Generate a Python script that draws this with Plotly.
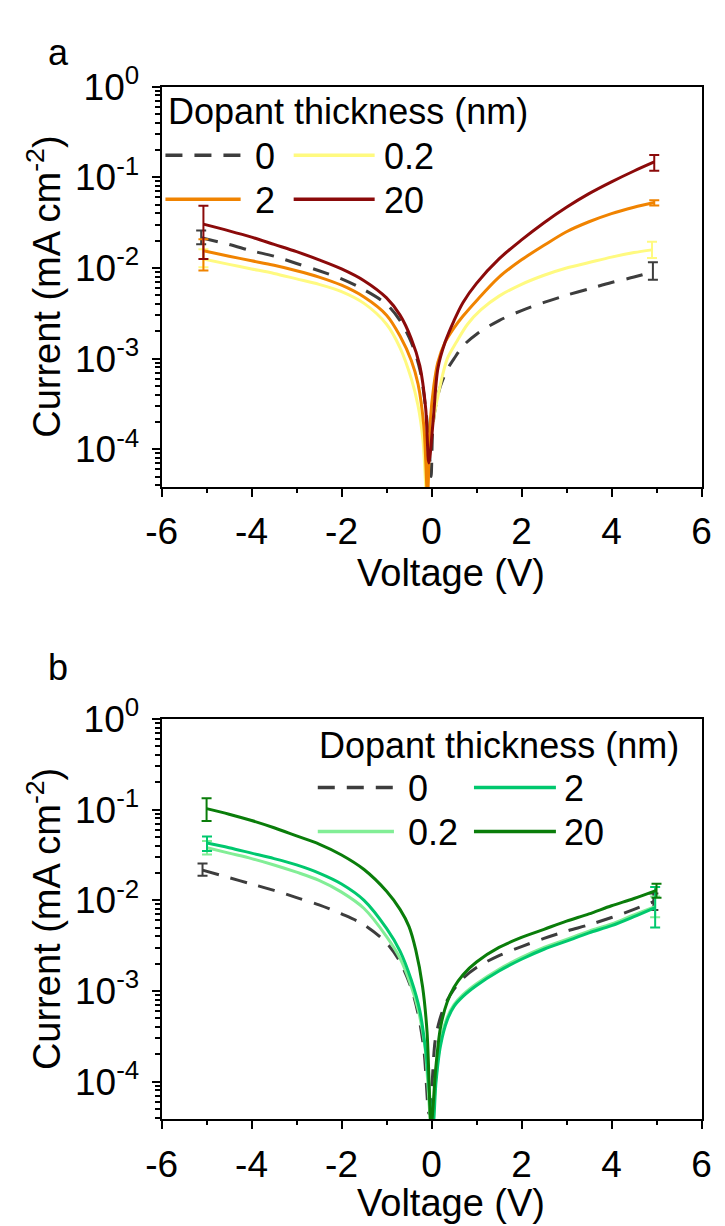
import math
import plotly.graph_objects as go

W, H = 725, 1226
FONT = "Liberation Sans, Arial, sans-serif"

# ---------------- data : panel a  (voltage in V, current as log10(mA cm^-2)) ----------------
a_v_0 = [-5.12, -4.5, -4.0, -3.5, -3.0, -2.5, -2.0, -1.5, -1.0, -0.7, -0.45, -0.26, -0.13, -0.05, -0.01,
         0.03, 0.1, 0.2, 0.35, 0.5, 0.7, 1.0, 1.5, 2.0, 2.5, 3.0, 3.5, 4.0, 4.5, 4.92]
a_lg_0 = [-1.667, -1.74, -1.81, -1.87, -1.95, -2.03, -2.12, -2.24, -2.40, -2.58, -2.82, -3.12, -3.55, -4.0, -4.3,
          -3.75, -3.5, -3.3, -3.12, -3.0, -2.86, -2.73, -2.58, -2.47, -2.38, -2.30, -2.23, -2.16, -2.10, -2.04]
a_hi_0 = [0.0259, 0.0116]
a_lo_0 = [0.0183, 0.0074]

a_v_02 = [-5.07, -4.5, -4.0, -3.5, -3.0, -2.5, -2.0, -1.5, -1.0, -0.7, -0.45, -0.3, -0.19, -0.11,
          -0.05, 0.05, 0.19, 0.35, 0.55, 0.8, 1.1, 1.5, 2.0, 2.5, 3.0, 3.5, 4.0, 4.5, 4.9]
a_lg_02 = [-1.90, -1.96, -2.01, -2.06, -2.12, -2.18, -2.26, -2.39, -2.62, -2.88, -3.22, -3.52, -3.9, -4.5,
           -4.0, -3.65, -3.3, -3.0, -2.82, -2.62, -2.46, -2.31, -2.18, -2.08, -2.0, -1.94, -1.88, -1.83, -1.80]
a_hi_02 = [0.0161, 0.0195]
a_lo_02 = [0.0102, 0.0129]

a_v_2 = [-5.07, -4.5, -4.0, -3.5, -3.0, -2.5, -2.0, -1.5, -1.0, -0.7, -0.45, -0.3, -0.17, -0.09,
         -0.03, 0.05, 0.14, 0.3, 0.5, 0.7, 1.0, 1.5, 2.0, 2.5, 3.0, 3.5, 4.0, 4.5, 4.95]
a_lg_2 = [-1.81, -1.87, -1.92, -1.97, -2.03, -2.10, -2.19, -2.32, -2.52, -2.75, -3.02, -3.28, -3.75, -4.5,
          -3.7, -3.3, -3.04, -2.82, -2.66, -2.53, -2.36, -2.10, -1.91, -1.75, -1.60, -1.49, -1.40, -1.33, -1.278]
a_hi_2 = [0.0207, 0.056]
a_lo_2 = [0.0094, 0.049]

a_v_20 = [-5.07, -4.5, -4.0, -3.5, -3.0, -2.5, -2.0, -1.5, -1.0, -0.7, -0.45, -0.26, -0.13, -0.06,
          0.04, 0.14, 0.3, 0.5, 0.7, 1.0, 1.5, 2.0, 2.5, 3.0, 3.5, 4.0, 4.5, 4.95]
a_lg_20 = [-1.516, -1.59, -1.66, -1.74, -1.82, -1.91, -2.01, -2.14, -2.33, -2.52, -2.78, -3.08, -3.55, -4.15,
           -3.66, -3.11, -2.82, -2.58, -2.38, -2.17, -1.90, -1.69, -1.50, -1.33, -1.18, -1.05, -0.93, -0.83]
a_hi_20 = [0.0485, 0.176]
a_lo_20 = [0.0126, 0.118]

# ---------------- data : panel b ----------------
b_v_0 = [-5.09, -4.5, -4.0, -3.5, -3.0, -2.5, -2.0, -1.5, -1.0, -0.7, -0.45, -0.3, -0.17, -0.06,
         0.0, 0.08, 0.18, 0.3, 0.5, 0.7, 1.0, 1.5, 2.0, 2.5, 3.0, 3.5, 4.0, 4.5, 4.93]
b_lg_0 = [-1.667, -1.75, -1.82, -1.89, -1.97, -2.05, -2.15, -2.27, -2.47, -2.68, -2.97, -3.25, -3.65, -4.35,
          -4.1, -3.55, -3.32, -3.15, -2.98, -2.86, -2.74, -2.61, -2.51, -2.42, -2.34, -2.27, -2.19, -2.10, -2.016]
b_hi_0 = [0.0254, 0.0119]
b_lo_0 = [0.0187, 0.0078]

b_v_02 = [-4.99, -4.5, -4.0, -3.5, -3.0, -2.5, -2.0, -1.5, -1.0, -0.7, -0.45, -0.3, -0.15, 0.0,
          0.1, 0.2, 0.35, 0.5, 0.7, 1.0, 1.5, 2.0, 2.5, 3.0, 3.5, 4.0, 4.5, 4.97]
b_lg_02 = [-1.42, -1.48, -1.54, -1.61, -1.69, -1.78, -1.91, -2.09, -2.40, -2.64, -2.95, -3.2, -3.6, -4.5,
           -3.95, -3.55, -3.29, -3.15, -3.04, -2.92, -2.76, -2.63, -2.52, -2.43, -2.34, -2.26, -2.16, -2.07]
b_hi_02 = [0.045, 0.011]
b_lo_02 = [0.032, 0.0065]

b_v_2 = [-4.99, -4.5, -4.0, -3.5, -3.0, -2.5, -2.0, -1.5, -1.0, -0.7, -0.45, -0.26, -0.12, 0.03,
         0.1, 0.2, 0.35, 0.5, 0.7, 1.0, 1.5, 2.0, 2.5, 3.0, 3.5, 4.0, 4.5, 4.97]
b_lg_2 = [-1.368, -1.42, -1.48, -1.54, -1.61, -1.70, -1.82, -2.00, -2.31, -2.56, -2.88, -3.22, -3.7, -4.5,
          -4.0, -3.6, -3.32, -3.17, -3.06, -2.94, -2.78, -2.65, -2.54, -2.45, -2.36, -2.28, -2.18, -2.08]
b_hi_2 = [0.0507, 0.014]
b_lo_2 = [0.0349, 0.005]

b_v_20 = [-5.0, -4.5, -4.0, -3.5, -3.0, -2.5, -2.0, -1.5, -1.0, -0.7, -0.5, -0.35, -0.2, -0.1, -0.01,
          0.03, 0.09, 0.2, 0.35, 0.5, 0.7, 1.0, 1.5, 2.0, 2.5, 3.0, 3.5, 4.0, 4.5, 5.0]
b_lg_20 = [-0.989, -1.05, -1.12, -1.20, -1.29, -1.38, -1.50, -1.66, -1.90, -2.10, -2.29, -2.55, -2.95, -3.45, -4.5,
           -4.3, -3.87, -3.40, -3.12, -2.96, -2.82, -2.68, -2.52, -2.41, -2.32, -2.23, -2.15, -2.06, -1.98, -1.89]
b_hi_20 = [0.134, 0.0152]
b_lo_20 = [0.0748, 0.0107]

# legend labels / ticks
legend_title = "Dopant thickness (nm)"
labels = ["0", "0.2", "2", "20"]
x_tickvals = [-6, -4, -2, 0, 2, 4, 6]
x_ticktext = ["-6", "-4", "-2", "0", "2", "4", "6"]
y_tickvals = [1e-4, 1e-3, 1e-2, 1e-1, 1]
y_ticktext = ["10<sup>-4</sup>", "10<sup>-3</sup>", "10<sup>-2</sup>", "10<sup>-1</sup>", "10<sup>0</sup>"]
y_minor = [m * 10.0 ** e for e in range(-5, 0) for m in range(2, 10)]

# colours
C_GRAY = "#3d3d3d"
C_YEL = "#fffa80"
C_ORA = "#f08300"
C_RED = "#8b0a0a"
C_LG = "#82ee96"
C_MG = "#00c86e"
C_DG = "#0a7d0a"
DASH = "17px,12px"

# ---------------- geometry (pixels) ----------------
X_L, X_R = 151, 711
A_T, A_B = 62, 471
B_T, B_B = 708, 1117


def px(x):
    return x / W


def py(y):
    return 1 - y / H


fig = go.Figure()


def add_series(v, lg, hi, lo, color, dash, xa, ya):
    j = [10.0 ** e for e in lg]
    fig.add_trace(go.Scatter(
        x=v, y=j, mode="lines", xaxis=xa, yaxis=ya, showlegend=False, hoverinfo="skip",
        line=dict(color=color, width=3, dash=dash, shape="spline", smoothing=0.9)))
    ev = [v[0], v[-1]]
    ej = [j[0], j[-1]]
    fig.add_trace(go.Scatter(
        x=ev, y=ej, mode="markers", xaxis=xa, yaxis=ya, showlegend=False, hoverinfo="skip",
        marker=dict(size=1, opacity=0, color=color),
        error_y=dict(type="data", symmetric=False,
                     array=[h - c for h, c in zip(hi, ej)],
                     arrayminus=[c - l for l, c in zip(lo, ej)],
                     color=color, thickness=2, width=5)))


add_series(a_v_0, a_lg_0, a_hi_0, a_lo_0, C_GRAY, DASH, "x", "y")
add_series(a_v_02, a_lg_02, a_hi_02, a_lo_02, C_YEL, "solid", "x", "y")
add_series(a_v_2, a_lg_2, a_hi_2, a_lo_2, C_ORA, "solid", "x", "y")
add_series(a_v_20, a_lg_20, a_hi_20, a_lo_20, C_RED, "solid", "x", "y")

add_series(b_v_0, b_lg_0, b_hi_0, b_lo_0, C_GRAY, DASH, "x2", "y2")
add_series(b_v_02, b_lg_02, b_hi_02, b_lo_02, C_LG, "solid", "x2", "y2")
add_series(b_v_2, b_lg_2, b_hi_2, b_lo_2, C_MG, "solid", "x2", "y2")
add_series(b_v_20, b_lg_20, b_hi_20, b_lo_20, C_DG, "solid", "x2", "y2")

ymin = math.log10(3.84e-5)
TICK_FS = 37


def xaxis_cfg(anchor):
    return dict(
        domain=[px(X_L), px(X_R)], anchor=anchor, range=[-6, 6],
        tickmode="array", tickvals=x_tickvals, ticktext=x_ticktext,
        ticks="outside", ticklen=8, tickwidth=2, tickcolor="black",
        minor=dict(dtick=1, tick0=-6, ticks="outside", ticklen=4, tickwidth=2, tickcolor="black"),
        showline=True, linewidth=2, linecolor="black", mirror=True,
        showgrid=False, zeroline=False, ticklabelstandoff=3,
        tickfont=dict(family=FONT, size=TICK_FS, color="black"))


def yaxis_cfg(anchor, top, bottom):
    return dict(
        type="log", domain=[py(bottom), py(top)], anchor=anchor, range=[ymin, 0],
        tickmode="array", tickvals=y_tickvals, ticktext=y_ticktext,
        ticks="outside", ticklen=8, tickwidth=2, tickcolor="black",
        minor=dict(tickmode="array", tickvals=y_minor, ticks="outside", ticklen=5, tickwidth=1.5,
                   tickcolor="black"),
        showline=True, linewidth=2, linecolor="black", mirror=True,
        showgrid=False, zeroline=False, ticklabelstandoff=5,
        tickfont=dict(family=FONT, size=TICK_FS, color="black"))


annotations = []
shapes = []


def text(x, y, s, size, xanchor="left", angle=0):
    annotations.append(dict(x=px(x), y=py(y), xref="paper", yref="paper", text=s, showarrow=False,
                            xanchor=xanchor, yanchor="middle", textangle=angle,
                            font=dict(family=FONT, size=size, color="black")))


def seg(x0, x1, y, color, dash):
    shapes.append(dict(type="line", xref="paper", yref="paper", x0=px(x0), x1=px(x1), y0=py(y), y1=py(y),
                       line=dict(color=color, width=3.5, dash=dash)))


# panel letters
text(44, 27, "a", 36, "center")
text(44, 655, "b", 36, "center")

# axis titles
text(451, A_B + 88, "Voltage (V)", 38, "center")
text(451, B_B + 86, "Voltage (V)", 38, "center")
for top, bottom in [(A_T, A_B), (B_T, B_B)]:
    text(29, (top + bottom) / 2, "Current (mA cm<sup>-2</sup>)", 38, "center", angle=-90)

LF = 36
# legend panel a
text(156, 87, legend_title, LF)
seg(155, 233, 132, C_GRAY, DASH)
text(246, 133, labels[0], LF)
seg(288, 372, 132, C_YEL, "solid")
text(380, 133, labels[1], LF)
seg(155, 233, 177, C_ORA, "solid")
text(246, 178, labels[2], LF)
seg(288, 372, 177, C_RED, "solid")
text(380, 178, labels[3], LF)

# legend panel b
text(312, 735, legend_title, LF)
seg(313, 392, 778, C_GRAY, DASH)
text(404, 779, labels[0], LF)
seg(475, 560, 778, C_MG, "solid")
text(566, 779, labels[2], LF)
seg(313, 392, 823, C_LG, "solid")
text(404, 824, labels[1], LF)
seg(475, 560, 823, C_DG, "solid")
text(566, 824, labels[3], LF)

fig.update_layout(
    width=W, height=H, margin=dict(l=0, r=0, t=0, b=0),
    paper_bgcolor="white", plot_bgcolor="white",
    xaxis=xaxis_cfg("y"), yaxis=yaxis_cfg("x", A_T, A_B),
    xaxis2=xaxis_cfg("y2"), yaxis2=yaxis_cfg("x2", B_T, B_B),
    annotations=annotations, shapes=shapes, showlegend=False,
    font=dict(family=FONT, color="black"),
)

fig.write_html("out.html")
